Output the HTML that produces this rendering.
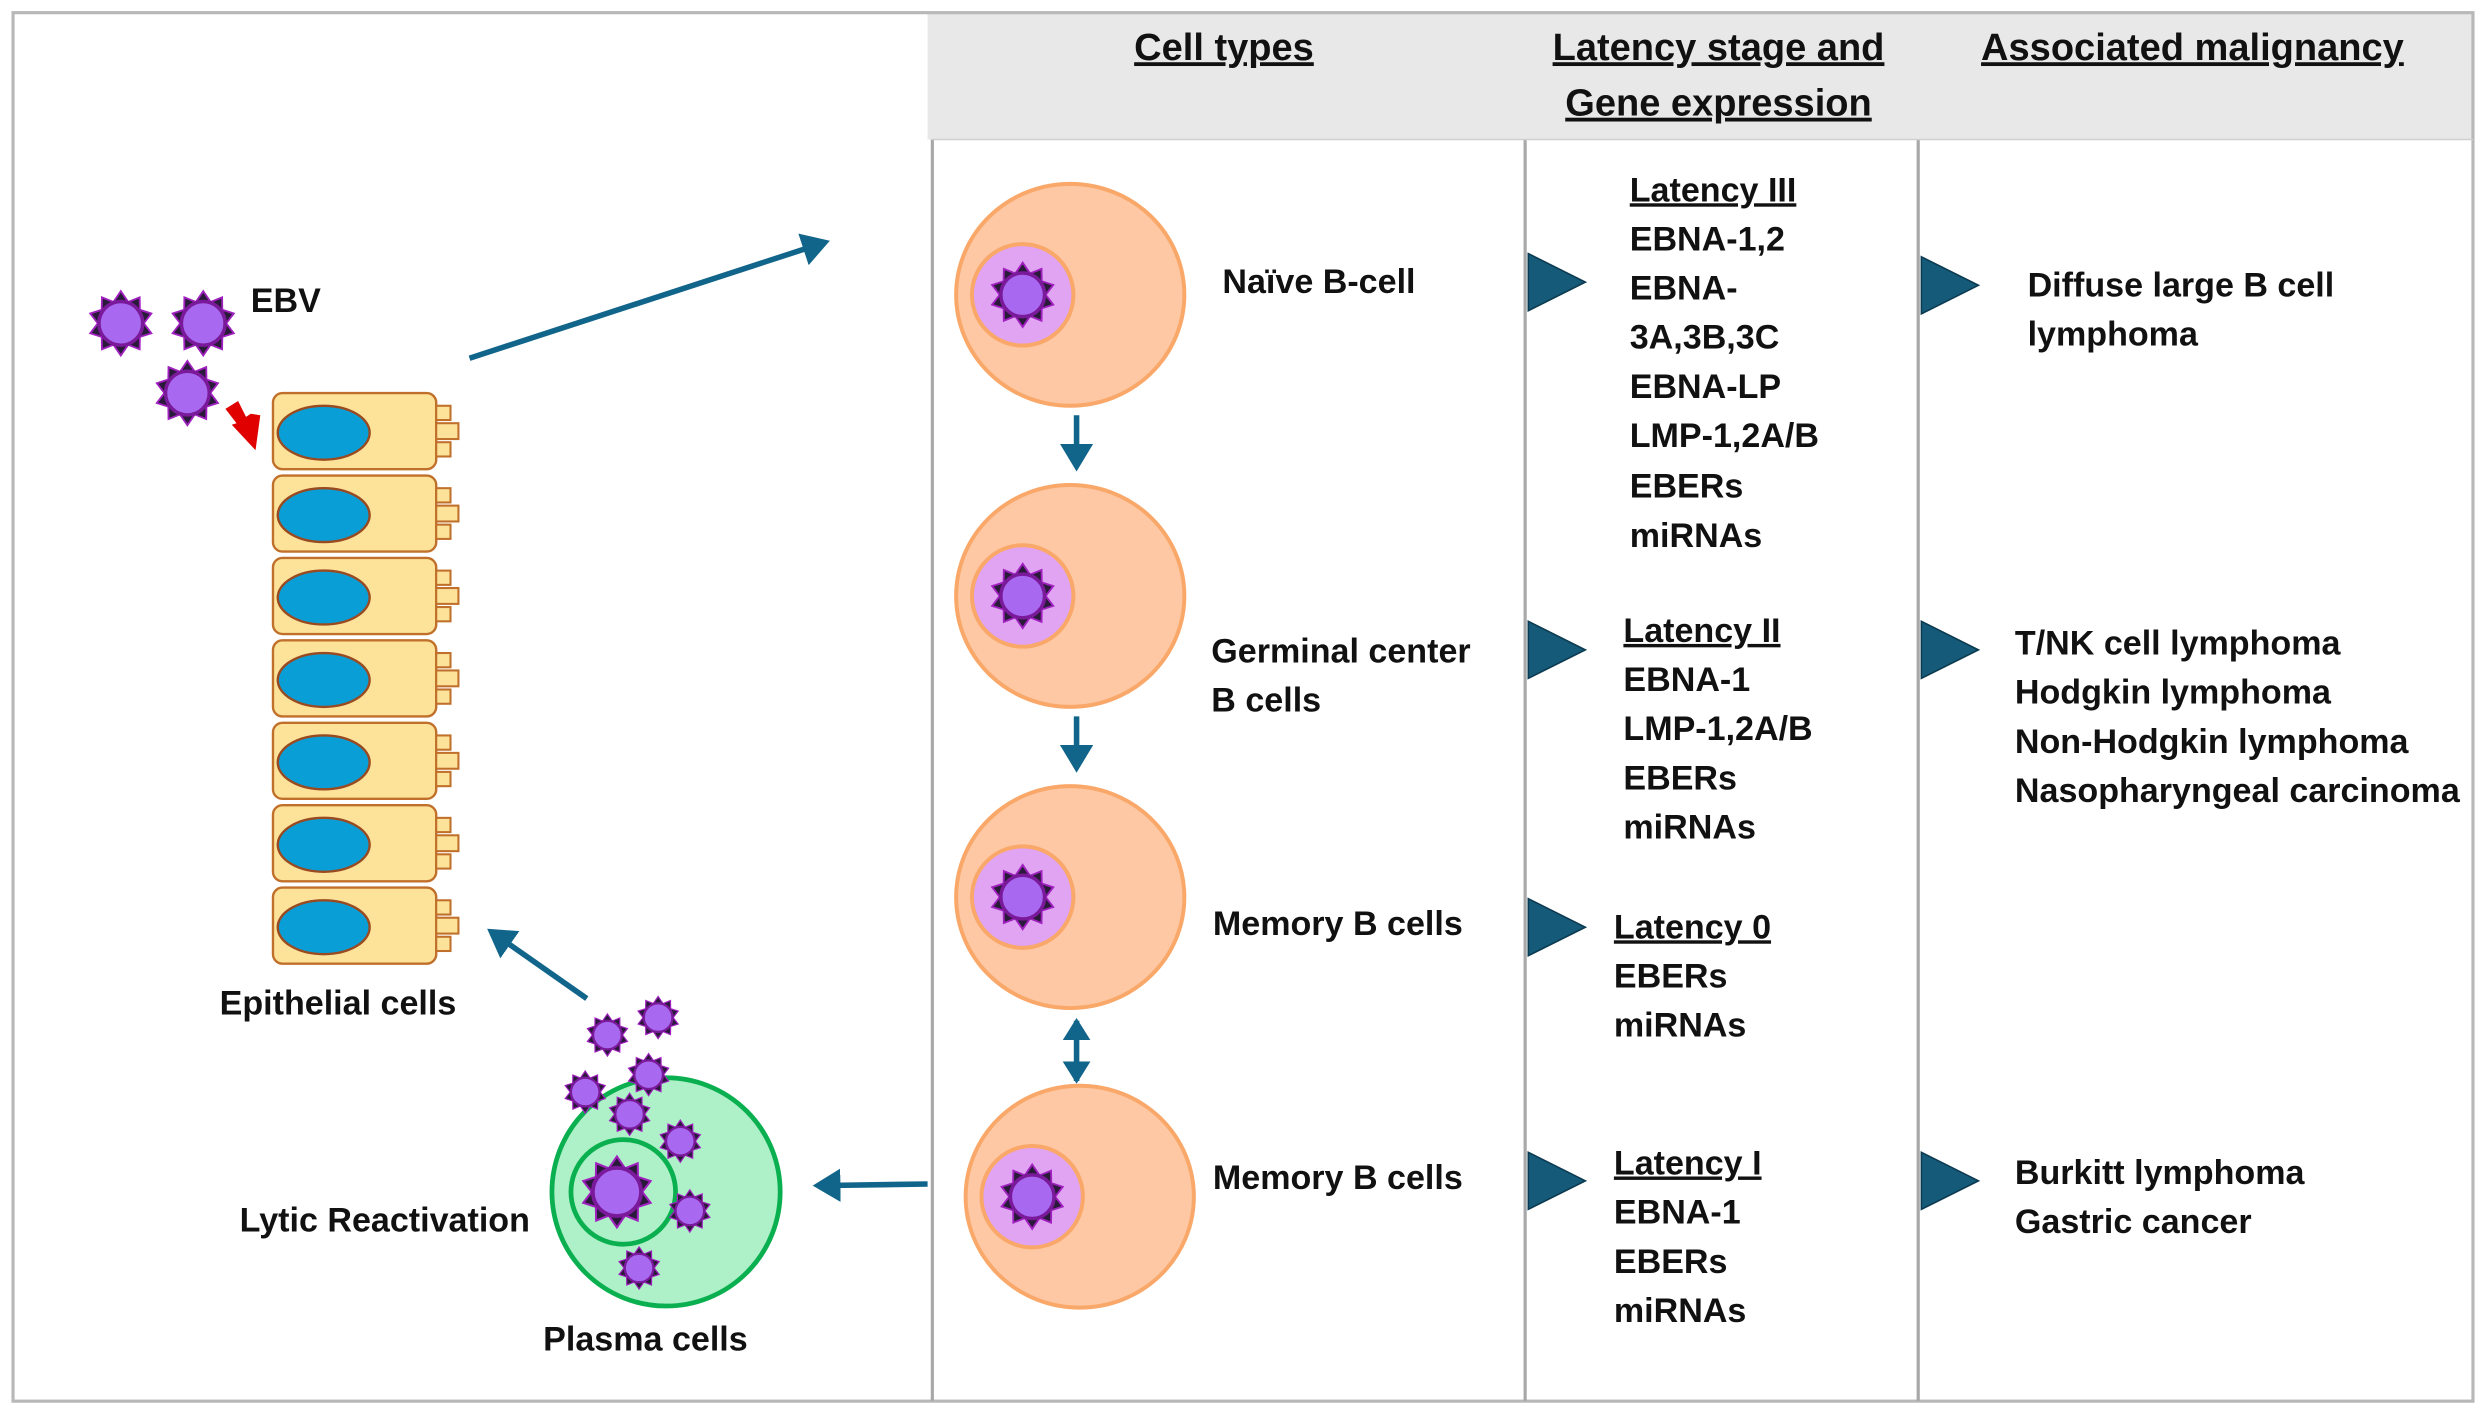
<!DOCTYPE html>
<html><head><meta charset="utf-8"><style>
html,body{margin:0;padding:0;background:#fff}
svg{display:block}
text{font-family:"Liberation Sans",sans-serif;font-weight:bold;fill:#111;font-size:21.5px}
.u{text-decoration:underline}
</style></head><body>
<svg width="2486" height="1417" viewBox="0 0 1568 894" xmlns="http://www.w3.org/2000/svg">
<defs>
<g id="v">
<polygon points="0,-14 3.2,-9.3 8.2,-11.3 8.3,-5.9 13.3,-4.3 10,0 13.3,4.3 8.3,5.9 8.2,11.3 3.2,9.3 0,14 -3.2,9.3 -8.2,11.3 -8.3,5.9 -13.3,4.3 -10,0 -13.3,-4.3 -8.3,-5.9 -8.2,-11.3 -3.2,-9.3" fill="#2a1a3a" stroke="#a020c0" stroke-width="0.8"/>
<circle r="9.5" fill="#a868f0" stroke="#7a1a9a" stroke-width="1.5"/>
</g>
<g id="ep">
<rect x="0" y="0" width="103" height="48" rx="6" fill="#fde39a" stroke="#c0702a" stroke-width="1.5"/>
<rect x="103" y="8" width="9" height="9" fill="#fde39a" stroke="#c0702a" stroke-width="1.3"/>
<rect x="103" y="19" width="14" height="10" fill="#fde39a" stroke="#c0702a" stroke-width="1.3"/>
<rect x="103" y="31" width="9" height="9" fill="#fde39a" stroke="#c0702a" stroke-width="1.3"/>
<ellipse cx="32" cy="25" rx="29" ry="17" fill="#0a9ed6" stroke="#9a4a20" stroke-width="1.5"/>
</g>
<g id="bc">
<ellipse cx="0" cy="0" rx="72" ry="70" fill="#fdc8a3" stroke="#f9a86a" stroke-width="2.5"/>
<circle cx="-30" cy="0" r="32" fill="#e0a4f2" stroke="#f9a86a" stroke-width="2.5"/>
<use href="#v" transform="translate(-30,0) scale(1.45)"/>
</g>
<g id="tri"><polygon points="0,-18 36,0 0,18" fill="#155a78" stroke="#0c3a50" stroke-width="1"/></g>
<marker id="ah" markerWidth="6" markerHeight="6" refX="4" refY="3" orient="auto" markerUnits="strokeWidth"><path d="M0,0 L5,3 L0,6 z" fill="#11658a"/></marker>
<marker id="ah2" markerWidth="5" markerHeight="5" refX="3.5" refY="2.5" orient="auto-start-reverse" markerUnits="strokeWidth"><path d="M0,0 L4,2.5 L0,5 z" fill="#11658a"/></marker>
</defs>

<rect x="585" y="8" width="975" height="80" fill="#e8e8e8"/>
<rect x="8" y="8" width="1552" height="876" fill="none" stroke="#b8b8b8" stroke-width="2"/>
<line x1="588" y1="88" x2="588" y2="884" stroke="#a8a8a8" stroke-width="2"/>
<line x1="962" y1="88" x2="962" y2="884" stroke="#a8a8a8" stroke-width="2"/>
<line x1="1210" y1="88" x2="1210" y2="884" stroke="#a8a8a8" stroke-width="2"/>
<line x1="588" y1="88" x2="1560" y2="88" stroke="#d0d0d0" stroke-width="1"/>

<text x="772" y="38" text-anchor="middle" class="u" style="font-size:24px">Cell types</text>
<text x="1084" y="38" text-anchor="middle" class="u" style="font-size:24px">Latency stage  and</text>
<text x="1084" y="73" text-anchor="middle" class="u" style="font-size:24px">Gene expression</text>
<text x="1383" y="38" text-anchor="middle" class="u" style="font-size:24px">Associated malignancy</text>

<use href="#ep" x="172" y="248"/><use href="#ep" x="172" y="300"/><use href="#ep" x="172" y="352"/>
<use href="#ep" x="172" y="404"/><use href="#ep" x="172" y="456"/><use href="#ep" x="172" y="508"/>
<use href="#ep" x="172" y="560"/>
<text x="213" y="640" text-anchor="middle">Epithelial cells</text>

<use href="#v" transform="translate(76,204) scale(1.45)"/>
<use href="#v" transform="translate(128,204) scale(1.45)"/>
<use href="#v" transform="translate(118,248) scale(1.45)"/>
<text x="158" y="197">EBV</text>
<polygon points="142,258 150,253 155,263 158,261 164,262 161,284 146,268 149,267" fill="#e00000"/>

<line x1="296" y1="226" x2="520" y2="153" stroke="#11658a" stroke-width="3.5" marker-end="url(#ah)"/>
<line x1="370" y1="630" x2="310" y2="588" stroke="#11658a" stroke-width="3.5" marker-end="url(#ah)"/>
<line x1="585" y1="747" x2="516" y2="748" stroke="#11658a" stroke-width="3.5" marker-end="url(#ah)"/>

<circle cx="420" cy="752" r="72" fill="#aef0c8" stroke="#0ab050" stroke-width="3"/>
<circle cx="393" cy="752" r="33" fill="#aef0c8" stroke="#0ab050" stroke-width="3"/>
<use href="#v" transform="translate(389,752) scale(1.6)"/>
<use href="#v" transform="translate(383,653) scale(0.95)"/>
<use href="#v" transform="translate(415,642) scale(0.95)"/>
<use href="#v" transform="translate(409,678) scale(0.95)"/>
<use href="#v" transform="translate(369,689) scale(0.95)"/>
<use href="#v" transform="translate(397,703) scale(0.95)"/>
<use href="#v" transform="translate(429,720) scale(0.95)"/>
<use href="#v" transform="translate(435,764) scale(0.95)"/>
<use href="#v" transform="translate(403,800) scale(0.95)"/>
<text x="151" y="777">Lytic Reactivation</text>
<text x="407" y="852" text-anchor="middle">Plasma cells</text>

<use href="#bc" x="675" y="186"/>
<use href="#bc" x="675" y="376"/>
<use href="#bc" x="675" y="566"/>
<use href="#bc" x="681" y="755"/>
<line x1="679" y1="262" x2="679" y2="294" stroke="#11658a" stroke-width="3.5" marker-end="url(#ah)"/>
<line x1="679" y1="452" x2="679" y2="484" stroke="#11658a" stroke-width="3.5" marker-end="url(#ah)"/>
<line x1="679" y1="644" x2="679" y2="682" stroke="#11658a" stroke-width="3.5" marker-end="url(#ah2)" marker-start="url(#ah2)"/>

<text x="771" y="185">Naïve B-cell</text>
<text x="764" y="418">Germinal center</text>
<text x="764" y="449">B cells</text>
<text x="765" y="590">Memory B cells</text>
<text x="765" y="750">Memory B cells</text>

<use href="#tri" x="964" y="178"/><use href="#tri" x="964" y="410"/>
<use href="#tri" x="964" y="585"/><use href="#tri" x="964" y="745"/>
<use href="#tri" x="1212" y="180"/><use href="#tri" x="1212" y="410"/><use href="#tri" x="1212" y="745"/>

<text x="1028" y="127" class="u">Latency III</text>
<text x="1028" y="158">EBNA-1,2</text>
<text x="1028" y="189">EBNA-</text>
<text x="1028" y="220">3A,3B,3C</text>
<text x="1028" y="251">EBNA-LP</text>
<text x="1028" y="282">LMP-1,2A/B</text>
<text x="1028" y="314">EBERs</text>
<text x="1028" y="345">miRNAs</text>

<text x="1024" y="405" class="u">Latency II</text>
<text x="1024" y="436">EBNA-1</text>
<text x="1024" y="467">LMP-1,2A/B</text>
<text x="1024" y="498">EBERs</text>
<text x="1024" y="529">miRNAs</text>

<text x="1018" y="592" class="u">Latency 0</text>
<text x="1018" y="623">EBERs</text>
<text x="1018" y="654">miRNAs</text>

<text x="1018" y="741" class="u">Latency I</text>
<text x="1018" y="772">EBNA-1</text>
<text x="1018" y="803">EBERs</text>
<text x="1018" y="834">miRNAs</text>

<text x="1279" y="187">Diffuse large B cell</text>
<text x="1279" y="218">lymphoma</text>
<text x="1271" y="413">T/NK cell lymphoma</text>
<text x="1271" y="444">Hodgkin lymphoma</text>
<text x="1271" y="475">Non-Hodgkin lymphoma</text>
<text x="1271" y="506">Nasopharyngeal carcinoma</text>
<text x="1271" y="747">Burkitt lymphoma</text>
<text x="1271" y="778">Gastric cancer</text>
</svg>
</body></html>
